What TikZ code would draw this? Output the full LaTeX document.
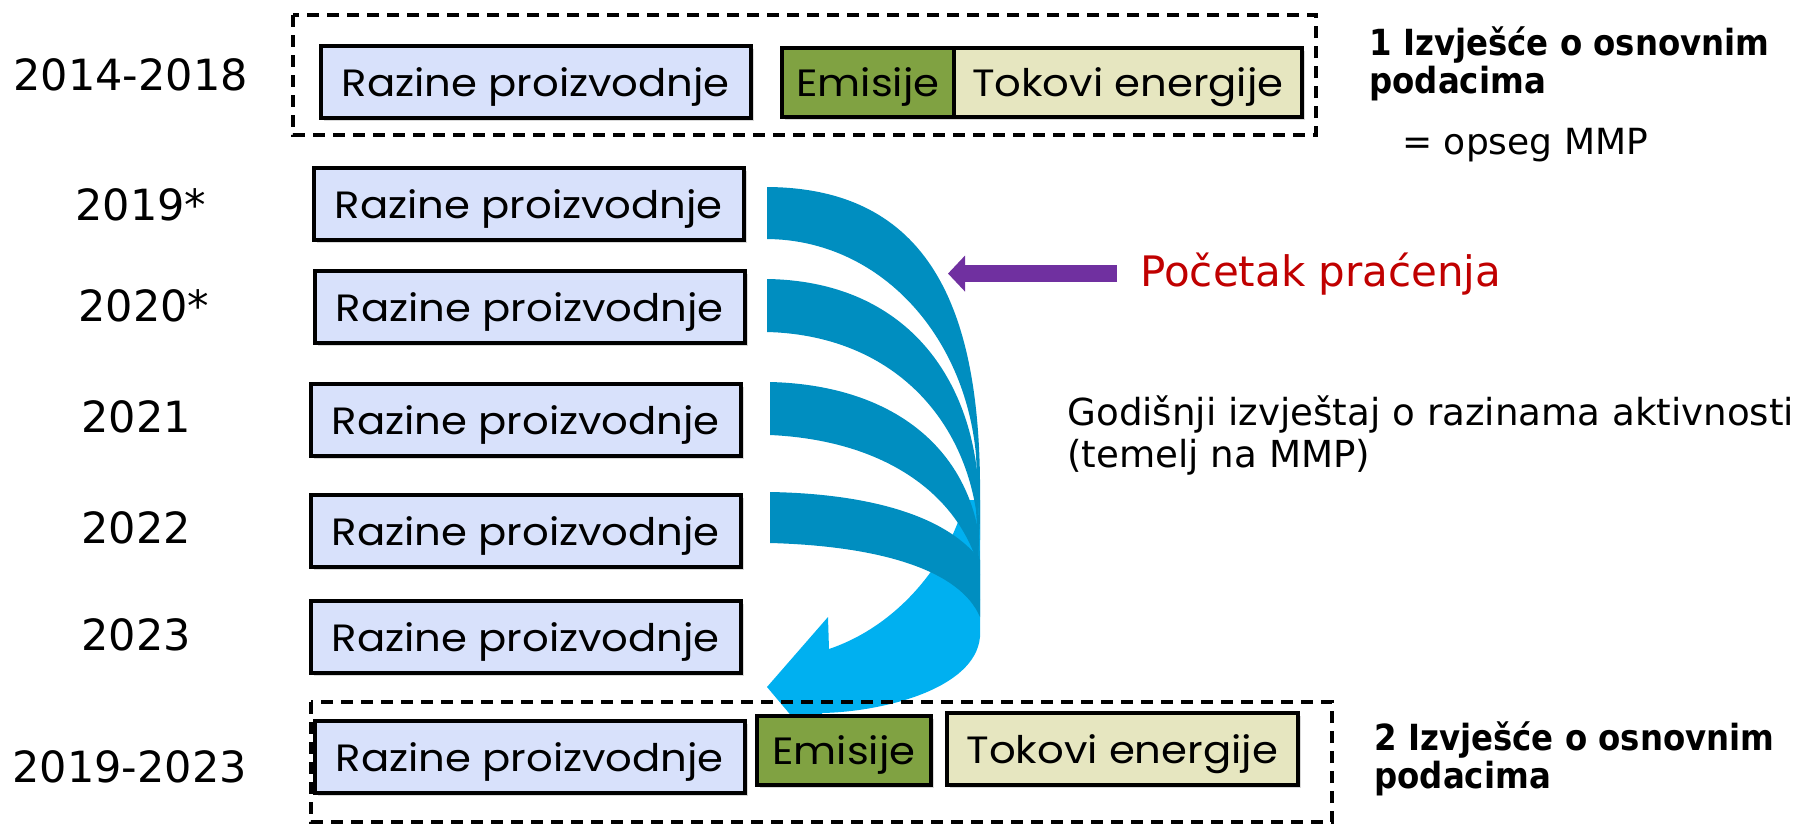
\documentclass[tikz,border=0pt]{standalone}
\usepackage{fontspec}
\setmainfont{DejaVu Sans}
\newfontfamily\boxfont[FakeStretch=1.1]{Poppins}
\newfontfamily\notefont[FakeStretch=0.9]{DejaVu Sans}
\usetikzlibrary{arrows.meta,shadows}
\definecolor{razinaplava}{RGB}{216,225,251}
\definecolor{emisijezelena}{RGB}{128,162,66}
\definecolor{tokovibez}{RGB}{230,230,192}
\definecolor{trakaplava}{RGB}{0,142,192}
\definecolor{trakacijan}{RGB}{0,176,240}
\definecolor{ljubicasta}{RGB}{112,48,160}
\definecolor{crvena}{RGB}{192,0,0}
\begin{document}
\begin{tikzpicture}[x=0.5pt,y=-0.5pt,
  kutija/.style={draw=black,line width=1.8pt,anchor=north west,inner sep=0pt,
    text depth=0pt,font=\boxfont\fontsize{19}{23}\selectfont,
    drop shadow={shadow xshift=1.5pt,shadow yshift=-1.5pt,opacity=0.3}},
  razina/.style={kutija,fill=razinaplava,minimum width=215pt,minimum height=36pt},
  emisija/.style={kutija,fill=emisijezelena,minimum width=86pt,minimum height=34.5pt},
  tokovi/.style={kutija,fill=tokovibez,minimum width=174pt,minimum height=34.5pt},
  okvir/.style={line width=1.6pt,dash pattern=on 6pt off 4pt},
  godina/.style={anchor=base west,inner sep=0pt,font=\fontsize{21.5}{25}\selectfont},
  biljeska/.style={anchor=base west,inner sep=0pt,align=left,
    font=\notefont\bfseries\fontsize{18}{19}\selectfont},
  pracenje/.style={line width=8.5pt,ljubicasta,-{Triangle[length=8.5pt,width=17.5pt]}}]
\useasboundingbox (0,0) rectangle (1806,825);
%\draw[help lines] (0,0) grid[step=50pt] (1806,825);

% the ribbon, light part first
\fill[trakacijan] (965,500) -- (980,500) -- (980,637)
  .. controls (975,690) and (880,712) .. (822,713) -- (826,757) -- (767,687)
  -- (828,617) -- (829,649) .. controls (900,625) and (950,560) .. (965,500) -- cycle;
\fill[trakaplava] (767,187) .. controls (930,188) and (978,310) .. (980,480)
  -- (980,540) -- (976,455) .. controls (965,335) and (880,240) .. (767,239) -- cycle;
\fill[trakaplava] (767,279) .. controls (900,281) and (968,370) .. (978,480)
  -- (980,575) -- (976,510) .. controls (960,410) and (885,335) .. (767,332) -- cycle;
\fill[trakaplava] (770,382) .. controls (890,385) and (962,445) .. (978,530)
  -- (980,600) -- (978,565) .. controls (955,490) and (880,440) .. (770,435) -- cycle;
\fill[trakaplava] (770,492) .. controls (880,494) and (950,520) .. (980,560)
  -- (980,617) .. controls (960,570) and (880,546) .. (770,543) -- cycle;

% 2014-2018
\draw[okvir] (293,15) rectangle (1316,135);
\node[godina] (g1418) at (13,90) {2014-2018};
\node[razina] (r1418) at (319,44) {Razine proizvodnje};
\node[emisija] (e1418) at (780,46) {Emisije};
\node[tokovi] (t1418) at (952,46) {Tokovi energije};
\node[biljeska] (izvj1) at (1369,93) {1 Izvješće o osnovnim\\podacima};
\node[anchor=base west,inner sep=0pt,font=\fontsize{18}{22}\selectfont] (opseg) at (1402,154) {= opseg MMP};

% godisnje razine
\node[godina] (g2019) at (75,220) {2019*};
\node[razina] (r2019) at (312,166) {Razine proizvodnje};
\node[godina] (g2020) at (78,321) {2020*};
\node[razina] (r2020) at (313,269) {Razine proizvodnje};
\node[godina] (g2021) at (81,432) {2021};
\node[razina] (r2021) at (309,382) {Razine proizvodnje};
\node[godina] (g2022) at (81,543) {2022};
\node[razina] (r2022) at (309,493) {Razine proizvodnje};
\node[godina] (g2023) at (81,650) {2023};
\node[razina] (r2023) at (309,599) {Razine proizvodnje};

\node[anchor=base west,inner sep=0pt,crvena,font=\fontsize{21}{25}\selectfont] (pocetak) at (1140,286) {Početak praćenja};
\coordinate (vrh) at ([xshift=-96pt]pocetak.west);
\draw[pracenje,shorten <=11.5pt] (pocetak.west) -- (vrh);
\node[anchor=base west,inner sep=0pt,align=left,font=\fontsize{18.6}{21}\selectfont] (godisnji) at (1067,467) {Godišnji izvještaj o razinama aktivnosti\\(temelj na MMP)};

% 2019-2023
\draw[okvir] (311,702) rectangle (1332,822);
\node[godina] (g1923) at (12,782) {2019-2023};
\node[razina] (r1923) at (313,719) {Razine proizvodnje};
\node[emisija,minimum width=87pt] (e1923) at (755,714) {Emisije};
\node[tokovi,minimum width=175.5pt,minimum height=36pt] (t1923) at (945,711) {Tokovi energije};
\node[biljeska] (izvj2) at (1374,788) {2 Izvješće o osnovnim\\podacima};
\end{tikzpicture}
\end{document}
